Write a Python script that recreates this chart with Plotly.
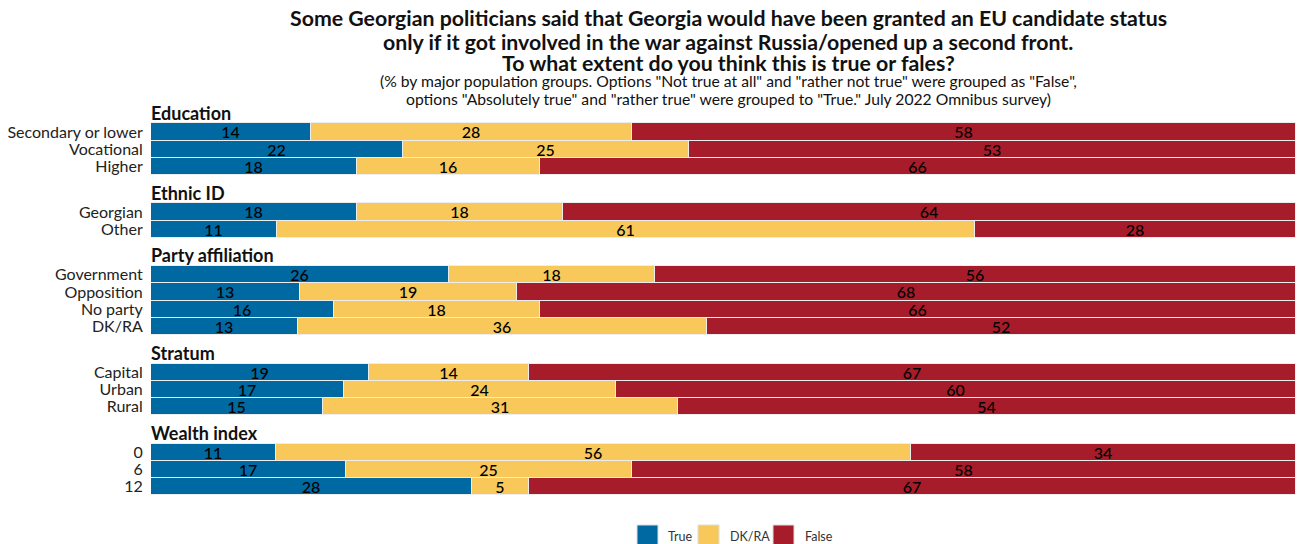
import plotly.graph_objects as go

# ---- data ----
groups = ["Education", "Ethnic ID", "Party affiliation", "Stratum", "Wealth index"]
group_categories = [
    ["Secondary or lower", "Vocational", "Higher"],
    ["Georgian", "Other"],
    ["Government", "Opposition", "No party", "DK/RA"],
    ["Capital", "Urban", "Rural"],
    ["0", "6", "12"],
]
true_vals = [14, 22, 18, 18, 11, 26, 13, 16, 13, 19, 17, 15, 11, 17, 28]
dk_vals = [28, 25, 16, 18, 61, 18, 19, 18, 36, 14, 24, 31, 56, 25, 5]
false_vals = [58, 53, 66, 64, 28, 56, 68, 66, 52, 67, 60, 54, 34, 58, 67]

series_names = ["True", "DK/RA", "False"]
series_colors = ["#0069A1", "#F8C95A", "#A61C2A"]

title_lines = [
    "Some Georgian politicians said that Georgia would have been granted an EU candidate status",
    "only if it got involved in the war against Russia/opened up a second front.",
    "To what extent do you think this is true or fales?",
]
subtitle_lines = [
    '(% by major population groups. Options "Not true at all" and "rather not true" were grouped as "False",',
    'options "Absolutely true" and "rather true" were grouped to "True." July 2022 Omnibus survey)',
]

# ---- layout constants (pixel-like y units) ----
W, H = 1298, 544
ML, MR = 151, 2
PW = W - ML - MR
FIRST_ROW = 132.0
PITCH = 17.25
GROUP_GAP = 28.3
HEADER_OFFSET = 19.5
FONT = "Lato, 'Open Sans', sans-serif"


def px_x(px):
    return (px - ML) / PW


def px_y(py):
    return (H - py) / H


# compute row positions
row_y, row_labels, header_y = [], [], []
y = FIRST_ROW
for gi, cats in enumerate(group_categories):
    header_y.append(y - HEADER_OFFSET)
    for ci, c in enumerate(cats):
        row_y.append(y)
        row_labels.append(c)
        if ci < len(cats) - 1:
            y += PITCH
    y += PITCH + GROUP_GAP

fig = go.Figure()
for name, vals, col in zip(series_names, [true_vals, dk_vals, false_vals], series_colors):
    fig.add_trace(go.Bar(
        x=vals, y=row_y, orientation="h", name=name,
        marker=dict(color=col, line=dict(color="#EDEDED", width=1)),
        width=PITCH,
        text=[str(v) for v in vals], texttemplate="%{text}",
        textposition="inside", insidetextanchor="middle", constraintext="none",
        textangle=0,
        insidetextfont=dict(family=FONT, size=16, color="#000000", weight=500),
        hoverinfo="skip", showlegend=False,
    ))

annotations = []
for g, hy in zip(groups, header_y):
    annotations.append(dict(
        x=0, y=hy, xref="x", yref="y", text="<b>%s</b>" % g, showarrow=False,
        xanchor="left", yanchor="middle", xshift=-2,
        font=dict(family=FONT, size=18, color="#111111"),
    ))

title_y = [18, 41.5, 63.5]
for t, ty in zip(title_lines, title_y):
    annotations.append(dict(
        x=px_x(728), y=px_y(ty), xref="paper", yref="paper", text="<b>%s</b>" % t,
        showarrow=False, xanchor="center", yanchor="middle", borderpad=0,
        font=dict(family=FONT, size=21.3, color="#111111"),
    ))
sub_y = [81.5, 99.5]
for t, ty in zip(subtitle_lines, sub_y):
    annotations.append(dict(
        x=px_x(728), y=px_y(ty), xref="paper", yref="paper", text=t,
        showarrow=False, xanchor="center", yanchor="middle", borderpad=0,
        font=dict(family=FONT, size=15.7, color="#111111"),
    ))

# legend drawn as key squares + labels
shapes = []
legend_sq_x = [637, 698, 773]
legend_txt_x = [666, 728, 803]
for name, col, sx, tx in zip(series_names, series_colors, legend_sq_x, legend_txt_x):
    shapes.append(dict(type="rect", xref="paper", yref="paper",
                       x0=px_x(sx), x1=px_x(sx + 21), y0=px_y(547), y1=px_y(525),
                       fillcolor=col, line=dict(color="#DDDDDD", width=1)))
    annotations.append(dict(
        x=px_x(tx), y=px_y(536.5), xref="paper", yref="paper", text=name,
        showarrow=False, xanchor="left", yanchor="middle",
        font=dict(family=FONT, size=12.5, color="#333333"),
    ))

fig.update_layout(
    width=W, height=H,
    margin=dict(l=ML, r=MR, t=0, b=0, autoexpand=False),
    barmode="stack", barnorm="percent", bargap=0,
    plot_bgcolor="white", paper_bgcolor="white",
    font=dict(family=FONT, color="#111111"),
    xaxis=dict(range=[0, 100], showgrid=False, zeroline=False, showticklabels=False,
               ticks="", showline=False, fixedrange=True),
    yaxis=dict(range=[H, 0], tickvals=row_y, ticktext=row_labels, showgrid=False,
               zeroline=False, showline=False, ticks="outside", ticklen=4,
               tickcolor="rgba(0,0,0,0)", automargin=False,
               tickfont=dict(family=FONT, size=16, color="#222222")),
    showlegend=False,
    annotations=annotations,
    shapes=shapes,
)

fig.write_html("out.html")
